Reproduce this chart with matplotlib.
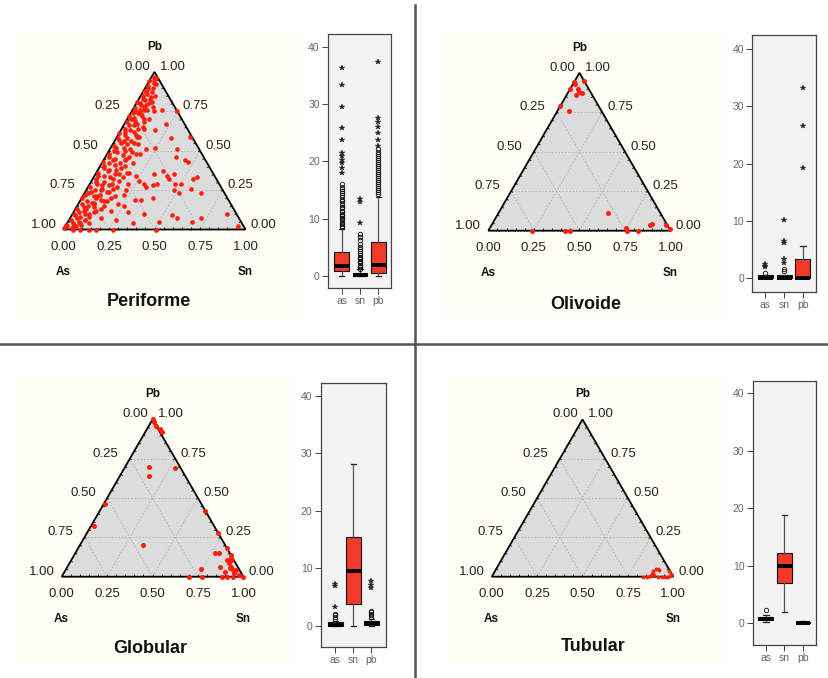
import numpy as np
import matplotlib
matplotlib.use("Agg")
import matplotlib.pyplot as plt
from matplotlib.patches import Polygon
from matplotlib.lines import Line2D

plt.rcParams['font.family'] = ['Liberation Sans', 'DejaVu Sans']

# ---------------- data ----------------
box_labels = ["as", "sn", "pb"]
tern_tick_vals = [0.00, 0.25, 0.50, 0.75, 1.00]
tern_tick_text = ["0.00", "0.25", "0.50", "0.75", "1.00"]
titles = ["Periforme", "Olivoide", "Globular", "Tubular"]

# Periforme compositions (fractions of Pb and Sn; As = 1 - Pb - Sn)
peri_pb = [0.76, 0.75, 0.67, 0.63, 0.59, 0.58, 0.51, 0.52, 0.51, 0.46, 0.44, 0.43, 0.42, 0.35, 0.37,
           0.34, 0.32, 0.35, 0.29, 0.29, 0.33, 0.32, 0.26, 0.23, 0.23, 0.25, 0.29, 0.27, 0.28, 0.29,
           0.34, 0.31, 0.29, 0.25, 0.22, 0.21, 0.20, 0.18, 0.15, 0.13, 0.12, 0.19, 0.19, 0.20, 0.16,
           0.15, 0.11, 0.10, 0.05, 0.09, 0.07, 0.05, 0.07, 0.10, 0.02, 0.04, 0.06, 0.07, 0.11, 0.10,
           0.06, 0.04, 0.03, 0.00, 0.00, 0.00, 0.00, 0.00, 0.00, 0.03, 0.01,
           0.81, 0.75, 0.70, 0.64, 0.59, 0.55, 0.49, 0.48, 0.45, 0.39, 0.35, 0.29, 0.25, 0.21, 0.17,
           0.13, 0.27, 0.24, 0.33, 0.36, 0.76, 0.79,
           0.97, 0.95, 0.94, 0.93, 0.91, 0.90, 0.89, 0.88, 0.87, 0.86, 0.85, 0.84, 0.83, 0.82, 0.81,
           0.80, 0.79, 0.78, 0.77, 0.76, 0.75, 0.74, 0.73, 0.72, 0.71, 0.70, 0.69, 0.68, 0.67, 0.66,
           0.65, 0.64, 0.63, 0.62, 0.61, 0.60, 0.59, 0.58, 0.57, 0.56, 0.55, 0.54, 0.53, 0.52, 0.51,
           0.50, 0.49, 0.48, 0.47, 0.46, 0.45, 0.44, 0.43, 0.42, 0.41, 0.40, 0.39, 0.38, 0.37, 0.36,
           0.35, 0.34, 0.33, 0.32, 0.31, 0.30, 0.29, 0.28, 0.27, 0.26, 0.25, 0.24, 0.23, 0.22, 0.21,
           0.20, 0.19, 0.18, 0.17, 0.16, 0.15, 0.14, 0.13, 0.12, 0.11, 0.10, 0.09, 0.08, 0.07, 0.06,
           0.05, 0.04, 0.03, 0.02, 0.01,
           0.96, 0.92, 0.87, 0.85, 0.83, 0.80, 0.78, 0.76, 0.74, 0.72, 0.70, 0.68, 0.66, 0.64, 0.62,
           0.60, 0.58, 0.56, 0.54, 0.52, 0.50, 0.48, 0.46, 0.44, 0.42, 0.40, 0.38, 0.36, 0.34, 0.32,
           0.30, 0.28, 0.26, 0.24, 0.22, 0.20, 0.18, 0.16, 0.14, 0.12, 0.10, 0.08, 0.06, 0.04, 0.02]
peri_sn = [0.16, 0.25, 0.23, 0.19, 0.40, 0.30, 0.20, 0.24, 0.37, 0.39, 0.45, 0.47, 0.17, 0.32, 0.36,
           0.40, 0.42, 0.43, 0.47, 0.50, 0.57, 0.55, 0.57, 0.64, 0.52, 0.48, 0.30, 0.32, 0.35, 0.37,
           0.23, 0.26, 0.21, 0.22, 0.22, 0.18, 0.16, 0.15, 0.15, 0.14, 0.20, 0.30, 0.33, 0.39, 0.22,
           0.26, 0.30, 0.39, 0.50, 0.55, 0.59, 0.68, 0.72, 0.85, 0.95, 0.36, 0.26, 0.17, 0.11, 0.09,
           0.09, 0.07, 0.04, 0.05, 0.09, 0.14, 0.18, 0.27, 0.51, 0.00, 0.00,
           0.08, 0.12, 0.12, 0.12, 0.11, 0.11, 0.13, 0.18, 0.12, 0.12, 0.11, 0.12, 0.08, 0.08, 0.07,
           0.06, 0.16, 0.12, 0.16, 0.18, 0.06, 0.06,
           0.01, 0.02, 0.00, 0.03, 0.01, 0.04, 0.02, 0.00, 0.05, 0.03, 0.01, 0.06, 0.02, 0.04, 0.00,
           0.07, 0.03, 0.05, 0.01, 0.08, 0.02, 0.04, 0.06, 0.00, 0.03, 0.09, 0.05, 0.01, 0.07, 0.03,
           0.11, 0.02, 0.05, 0.08, 0.00, 0.04, 0.12, 0.06, 0.02, 0.09, 0.04, 0.14, 0.01, 0.07, 0.11,
           0.03, 0.05, 0.16, 0.09, 0.02, 0.06, 0.12, 0.00, 0.04, 0.08, 0.14, 0.03, 0.10, 0.06, 0.01,
           0.13, 0.05, 0.09, 0.02, 0.15, 0.07, 0.04, 0.11, 0.01, 0.08, 0.05, 0.13, 0.02, 0.09, 0.06,
           0.00, 0.11, 0.04, 0.08, 0.02, 0.06, 0.10, 0.01, 0.05, 0.03, 0.07, 0.02, 0.10, 0.04, 0.01,
           0.06, 0.03, 0.08, 0.01, 0.04,
           0.03, 0.05, 0.02, 0.08, 0.06, 0.02, 0.10, 0.04, 0.01, 0.07, 0.02, 0.10, 0.06, 0.09, 0.03,
           0.10, 0.01, 0.05, 0.08, 0.03, 0.09, 0.01, 0.13, 0.05, 0.10, 0.02, 0.06, 0.17, 0.02, 0.11,
           0.03, 0.07, 0.14, 0.03, 0.01, 0.08, 0.13, 0.09, 0.04, 0.12, 0.01, 0.05, 0.09, 0.12, 0.06]

oliv_pb = [0.94, 0.93, 0.95, 0.90, 0.90, 0.88, 0.87, 0.86, 0.79, 0.76, 0.115, 0.015, 0.00, 0.00,
           0.035, 0.04, 0.035, 0.01, 0.00, 0.00, 0.00]
oliv_sn = [0.00, 0.01, 0.05, 0.00, 0.04, 0.06, 0.08, 0.05, 0.00, 0.06, 0.60, 0.75, 0.76, 0.82,
           0.87, 0.88, 0.96, 0.99, 0.24, 0.42, 0.45]

glob_pb = [1.00, 0.98, 0.96, 0.94, 0.92, 0.70, 0.64, 0.69, 0.46, 0.32, 0.20, 0.42, 0.28, 0.18,
           0.15, 0.15, 0.14, 0.06, 0.05, 0.00, 0.00, 0.106, 0.085, 0.064, 0.042, 0.021, 0.053,
           0.032, 0.00, 0.00, 0.00, 0.01, 0.00, 0.042, 0.106, 0.12]
glob_sn = [0.00, 0.02, 0.04, 0.07, 0.09, 0.13, 0.16, 0.28, 0.01, 0.02, 0.35, 0.58, 0.72, 0.82,
           0.77, 0.79, 0.86, 0.84, 0.74, 0.70, 0.77, 0.855, 0.88, 0.90, 0.92, 0.94, 0.90,
           0.88, 0.88, 0.91, 0.945, 0.97, 1.00, 0.94, 0.88, 0.87]

tub_pb = [0.00, 0.00, 0.004, 0.02, 0.038, 0.046, 0.052, 0.042, 0.01, 0.00, 0.00, 0.00, 0.00,
          0.01, 0.02, 0.038]
tub_sn = [0.835, 0.853, 0.87, 0.87, 0.87, 0.88, 0.89, 0.90, 0.89, 0.917, 0.936, 0.954, 0.972,
          0.98, 0.98, 0.96]

# Box plot summaries (wt %): order as, sn, pb
peri_q1 = [0.9, 0.0, 0.6]
peri_med = [1.8, 0.1, 1.9]
peri_q3 = [4.1, 0.5, 6.0]
peri_lo = [0.0, 0.0, 0.0]
peri_hi = [8.2, 1.2, 13.8]
peri_out = [[8.5, 8.8, 9.1, 9.3, 9.6, 9.9, 10.1, 10.4, 10.6, 10.9, 11.2, 11.4, 11.8, 12.0, 12.3,
             12.7, 13.0, 13.3, 13.8, 14.1, 14.5, 14.9, 15.2, 15.6, 16.1],
            [1.3, 1.5, 1.6, 1.8, 2.0, 2.2, 2.4, 2.7, 2.9, 3.1, 3.4, 3.7, 4.0, 4.3, 4.7, 5.1, 5.6,
             6.2, 6.8, 7.3],
            [14.3, 14.6, 15.0, 15.3, 15.7, 16.1, 16.4, 16.8, 17.1, 17.5, 17.8, 18.2, 18.5, 18.9,
             19.2, 19.6, 19.9, 20.3, 20.6, 20.9, 21.3, 21.7, 22.1]]
peri_ext = [[17.9, 18.8, 19.7, 20.3, 20.9, 21.5, 23.7, 25.8, 29.4, 33.3, 36.2],
            [9.3, 12.9, 13.5],
            [22.6, 23.7, 24.9, 26.0, 26.9, 27.5, 37.4]]

oliv_q1 = [0.0, 0.0, 0.0]
oliv_med = [0.0, 0.0, 0.0]
oliv_q3 = [0.5, 0.5, 3.2]
oliv_lo = [0.0, 0.0, 0.0]
oliv_hi = [0.5, 0.5, 5.5]
oliv_out = [[0.9], [1.2, 1.6], []]
oliv_ext = [[1.8, 2.1, 2.4], [2.5, 3.3, 6.0, 6.5, 10.1], [19.2, 26.6, 33.3]]

glob_q1 = [0.0, 3.8, 0.2]
glob_med = [0.2, 9.6, 0.5]
glob_q3 = [0.6, 15.5, 0.9]
glob_lo = [0.0, 0.0, 0.0]
glob_hi = [0.8, 28.2, 1.1]
glob_out = [[1.2, 1.5, 1.8, 2.1], [], [1.5, 1.8, 2.0, 2.3, 2.6]]
glob_ext = [[3.3, 6.9, 7.3], [], [6.6, 7.1, 7.7]]

tub_q1 = [0.5, 7.0, 0.0]
tub_med = [0.8, 10.0, 0.1]
tub_q3 = [1.05, 12.2, 0.3]
tub_lo = [0.2, 1.9, 0.0]
tub_hi = [1.5, 18.8, 0.4]
tub_out = [[2.3], [], []]
tub_ext = [[], [], []]

# ---------------- styling / layout ----------------
FW, FH = 829, 678
CREAM = '#fffff5'
TRI_FILL = '#dcdcdc'
RED = '#ff1e0a'
BOX_RED = '#f23a2a'
SQ = np.sqrt(3) / 2

fig = plt.figure(figsize=(FW / 100, FH / 100), dpi=100)
fig.patch.set_facecolor('white')


def px_axes(L, T, R, B):
    return fig.add_axes([L / FW, 1 - B / FH, (R - L) / FW, (B - T) / FH])


def draw_ternary(rect, origin, W, sn, pb, title, title_dx, title_dy, msize):
    L, T, R, B = rect
    ax = px_axes(L, T, R, B)
    ox, oy = origin
    ax.set_xlim((L - ox) / W, (R - ox) / W)
    ax.set_ylim((oy - B) / W, (oy - T) / W)
    ax.set_facecolor(CREAM)
    ax.set_xticks([])
    ax.set_yticks([])
    for s in ax.spines.values():
        s.set_visible(False)
    tri = np.array([[0, 0], [1, 0], [0.5, SQ]])
    ax.add_patch(Polygon(tri, closed=True, facecolor=TRI_FILL, edgecolor='none', zorder=1))
    gkw = dict(color='#b4b4b4', lw=0.7, ls=(0, (1.5, 2)), zorder=2)
    for v in tern_tick_vals[1:-1]:
        ax.plot([v / 2, 1 - v / 2], [v * SQ, v * SQ], **gkw)
        ax.plot([v, v + (1 - v) / 2], [0, (1 - v) * SQ], **gkw)
        ax.plot([1 - v, (1 - v) / 2], [0, (1 - v) * SQ], **gkw)
    # small tick marks on edges
    tl = 2.3 / W
    tkw = dict(color='#222222', lw=0.7, zorder=3, solid_capstyle='butt')
    for t in np.arange(0.05, 1.0, 0.05):
        ax.plot([t, t], [0, tl], **tkw)
        lx, ly = t / 2, t * SQ
        ax.plot([lx, lx + 0.866 * tl], [ly, ly - 0.5 * tl], **tkw)
        rx, ry = 1 - t / 2, t * SQ
        ax.plot([rx, rx - 0.866 * tl], [ry, ry - 0.5 * tl], **tkw)
    ax.add_patch(Polygon(tri, closed=True, fill=False, edgecolor='black', lw=1.3,
                         zorder=3, joinstyle='miter'))
    sn = np.asarray(sn, float)
    pb = np.asarray(pb, float)
    ax.scatter(sn + pb / 2, pb * SQ, s=msize, c=RED, linewidths=0, zorder=4, clip_on=False)

    fkw = dict(fontsize=9.5, color='#222222', ha='center', va='center')
    # bottom axis (Sn)
    for v, t in zip(tern_tick_vals, tern_tick_text):
        ax.text(v, -17 / W, t, **fkw)
    # left axis (As): 0 at Pb apex, 1 at As vertex
    for v, t in zip(tern_tick_vals, tern_tick_text):
        x, y = (1 - v) / 2, (1 - v) * SQ
        dx = -17 if v == 0 else (-20 if v == 1 else -24)
        ax.text(x + dx / W, y + 5 / W, t, **fkw)
    # right axis (Pb): 0 at Sn vertex, 1 at apex
    for v, t in zip(tern_tick_vals, tern_tick_text):
        x, y = 1 - v / 2, v * SQ
        ax.text(x + 18 / W, y + 5 / W, t, **fkw)
    bkw = dict(fontsize=8.5, fontweight='bold', color='#111111', ha='center', va='center')
    ax.text(0.5, SQ + 25 / W, "Pb", **bkw)
    ax.text(0.0, -42 / W, "As", **bkw)
    ax.text(1.0, -42 / W, "Sn", **bkw)
    ax.text(0.5 + title_dx / W, -title_dy / W, title, fontsize=13, fontweight='bold',
            color='#111111', ha='center', va='center')
    return ax


def draw_box(rect, y0, y40, xlim, q1, med, q3, lo, hi, out, ext):
    L, T, R, B = rect
    ax = px_axes(L, T, R, B)
    k = 40.0 / (y0 - y40)
    ax.set_ylim(-(B - y0) * k, (y0 - T) * k)
    ax.set_xlim(*xlim)
    ax.set_facecolor('#f3f3f3')
    stats = []
    for i in range(3):
        stats.append(dict(q1=q1[i], med=med[i], q3=q3[i], whislo=lo[i], whishi=hi[i],
                          fliers=out[i]))
    ax.bxp(stats, positions=[1, 2, 3], widths=0.8, patch_artist=True, showfliers=True,
           capwidths=0.3,
           boxprops=dict(facecolor=BOX_RED, edgecolor='#111111', linewidth=0.8),
           medianprops=dict(color='black', linewidth=2.8, solid_capstyle='butt'),
           whiskerprops=dict(color='#555555', linewidth=0.9),
           capprops=dict(color='#222222', linewidth=0.9),
           flierprops=dict(marker='o', markersize=3.2, markerfacecolor='none',
                           markeredgecolor='#111111', markeredgewidth=0.6, linestyle='none'))
    for i, vals in enumerate(ext):
        if vals:
            ax.plot([i + 1] * len(vals), vals, ls='none', marker='*', markersize=4,
                    color='#222222', markeredgewidth=0.3)
    ax.set_yticks([0, 10, 20, 30, 40])
    ax.set_yticklabels(["0", "10", "20", "30", "40"])
    ax.set_xticks([1, 2, 3])
    ax.set_xticklabels(box_labels)
    ax.tick_params(axis='both', direction='out', length=4, width=0.7, color='#444444',
                   labelcolor='#666666', labelsize=7.5, pad=2)
    for s in ax.spines.values():
        s.set_color('#444444')
        s.set_linewidth(0.9)
    return ax


# ternary panels
draw_ternary((15, 33, 300, 318), (63.5, 229.5), 182.0, peri_sn, peri_pb, titles[0], -6, 72, 11)
draw_ternary((443, 32, 723, 317), (488.3, 230.7), 182.3, oliv_sn, oliv_pb, titles[1], 6, 74, 13)
draw_ternary((17, 377, 290, 662), (61.7, 576.7), 181.7, glob_sn, glob_pb, titles[2], -2, 72, 13)
draw_ternary((448, 375, 723, 662), (491.7, 576.7), 181.6, tub_sn, tub_pb, titles[3], 11, 70, 8)

# box plot panels
draw_box((328, 34, 391, 288), 276.0, 46.7, (0.25, 3.69),
         peri_q1, peri_med, peri_q3, peri_lo, peri_hi, peri_out, peri_ext)
draw_box((752.3, 35, 816, 291.7), 277.7, 49.3, (0.30, 3.70),
         oliv_q1, oliv_med, oliv_q3, oliv_lo, oliv_hi, oliv_out, oliv_ext)
draw_box((320.7, 382.7, 386, 646.7), 625.7, 395.7, (0.19, 3.81),
         glob_q1, glob_med, glob_q3, glob_lo, glob_hi, glob_out, glob_ext)
draw_box((752.7, 380.7, 816, 645), 623.3, 393.3, (0.30, 3.70),
         tub_q1, tub_med, tub_q3, tub_lo, tub_hi, tub_out, tub_ext)

# divider lines
fig.add_artist(Line2D([415 / FW, 415 / FW], [0, 1 - 5 / FH], transform=fig.transFigure,
                      color='#555555', lw=1.8))
fig.add_artist(Line2D([0, 1], [1 - 344 / FH, 1 - 344 / FH], transform=fig.transFigure,
                      color='#555555', lw=1.8))

fig.savefig('out.png', dpi=100, facecolor='white')
